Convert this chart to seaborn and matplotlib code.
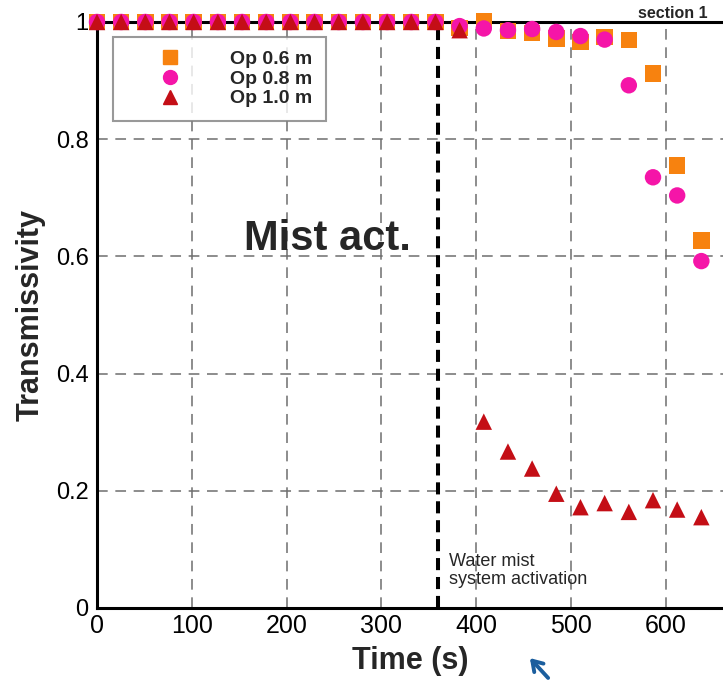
import matplotlib
matplotlib.use("Agg")
import matplotlib.pyplot as plt
from matplotlib.lines import Line2D
from matplotlib.patches import FancyArrowPatch
import numpy as np
import pandas as pd
import seaborn as sns

# ---------------- data ----------------
time_s = [0, 25.5, 51, 76.5, 102, 127.5, 153, 178.5, 204, 229.5, 255, 280.5, 306,
          331.5, 357, 382.5, 408, 433.5, 459, 484.5, 510, 535.5, 561, 586.5, 612, 637.5]
op_06 = [1.0, 1.0, 1.0, 1.0, 1.0, 1.0, 1.0, 1.0, 1.0, 1.0, 1.0, 1.0, 1.0,
         1.0, 1.0, 0.990, 1.002, 0.985, 0.981, 0.972, 0.966, 0.974, 0.969, 0.912, 0.755, 0.627]
op_08 = [1.0, 1.0, 1.0, 1.0, 1.0, 1.0, 1.0, 1.0, 1.0, 1.0, 1.0, 1.0, 1.0,
         1.0, 1.0, 0.993, 0.989, 0.986, 0.988, 0.983, 0.976, 0.970, 0.892, 0.735, 0.704, 0.592]
op_10 = [1.0, 1.0, 1.0, 1.0, 1.0, 1.0, 1.0, 1.0, 1.0, 1.0, 1.0, 1.0, 1.0,
         1.0, 1.0, 0.986, 0.318, 0.267, 0.238, 0.195, 0.172, 0.179, 0.164, 0.184, 0.168, 0.155]
series_names = ["Op 0.6 m", "Op 0.8 m", "Op 1.0 m"]
series_colors = ["#F7820F", "#F515A8", "#C40E16"]
series_markers = ["s", "o", "^"]
activation_time = 360
x_ticks = [0, 100, 200, 300, 400, 500, 600]
y_ticks = [0, 0.2, 0.4, 0.6, 0.8, 1.0]
y_tick_labels = ["0", "0.2", "0.4", "0.6", "0.8", "1"]

df = pd.concat([
    pd.DataFrame({"Time": time_s, "T": vals, "Series": name})
    for name, vals in zip(series_names, [op_06, op_08, op_10])
], ignore_index=True)

# ---------------- figure ----------------
sns.set_style("white")
plt.rcParams["font.family"] = ["Liberation Sans", "DejaVu Sans"]

fig = plt.figure(figsize=(7.23, 6.80), dpi=100)
ax = fig.add_axes([97 / 723, 72 / 680, 663.6 / 723, 586 / 680])

sns.scatterplot(data=df, x="Time", y="T", hue="Series", style="Series",
                hue_order=series_names, style_order=series_names,
                palette=dict(zip(series_names, series_colors)),
                markers=dict(zip(series_names, series_markers)),
                s=140, linewidth=0, legend=False, ax=ax, zorder=5)
for c in ax.collections:
    c.set_clip_on(False)

ax.set_xlim(0, 700)
ax.set_ylim(0, 1)
ax.set_xticks(x_ticks)
ax.set_xticks(np.arange(0, 701, 20), minor=True)
ax.set_yticks(y_ticks)
ax.set_yticklabels(y_tick_labels)
ax.set_yticks(np.arange(0, 1.001, 0.05), minor=True)
ax.tick_params(axis="both", which="major", direction="in", length=7, width=1.5,
               colors="black")
ax.tick_params(axis="x", which="major", labelsize=18, pad=4)
ax.tick_params(axis="y", which="major", labelsize=17, pad=6)
ax.tick_params(axis="both", which="minor", direction="in", length=3.5, width=0.8)

ax.grid(True, which="major", color="#6e6e6e", linestyle=(0, (7, 5)), linewidth=1.1)
ax.set_axisbelow(True)
for sp in ax.spines.values():
    sp.set_linewidth(2.2)
    sp.set_color("black")

ax.set_xlabel("Time (s)", fontsize=22, fontweight="bold")
ax.set_ylabel("Transmissivity", fontsize=22, fontweight="bold")
ax.xaxis.set_label_coords((410 - 97) / 663.6, -0.064)
ax.yaxis.set_label_coords((46 - 97) / 663.6, 0.5)

# activation line
ax.axvline(activation_time, color="black", linewidth=2.9, linestyle=(0, (3, 1.7)), zorder=3)
ax.text(155, (608 - 250) / 586, "Mist act.", fontsize=30, fontweight="bold",
        va="baseline", ha="left")
ax.text(371, (608 - 584) / 586, "Water mist\nsystem activation", fontsize=13,
        va="baseline", ha="left", linespacing=1.05)

# legend
handles = [Line2D([], [], linestyle="none", marker=m, color=c, markersize=10)
           for m, c in zip(series_markers, series_colors)]
leg = ax.legend(handles, series_names, loc="upper left",
                bbox_to_anchor=((113 - 97) / 663.6, (608 - 37) / 586),
                borderaxespad=0, frameon=True, fancybox=False,
                prop={"weight": "bold", "size": 14},
                handlelength=4.46, handletextpad=0.86, labelspacing=0.1,
                borderpad=0.7)
leg.get_frame().set_edgecolor("#808080")
leg.get_frame().set_linewidth(1.5)
leg.set_zorder(10)

fig.text(673 / 723, 1 - 13 / 680, "section 1", fontsize=11.5, fontweight="bold",
         ha="center", va="center")

# blue arrow below the axis
fig.add_artist(FancyArrowPatch(
    (550 / 723, 0.0), (528 / 723, 1 - 656 / 680), transform=fig.transFigure,
    arrowstyle="->,head_length=7,head_width=4.5", color="#1B5E9E", linewidth=2.8))

fig.savefig("out.png", dpi=100)
